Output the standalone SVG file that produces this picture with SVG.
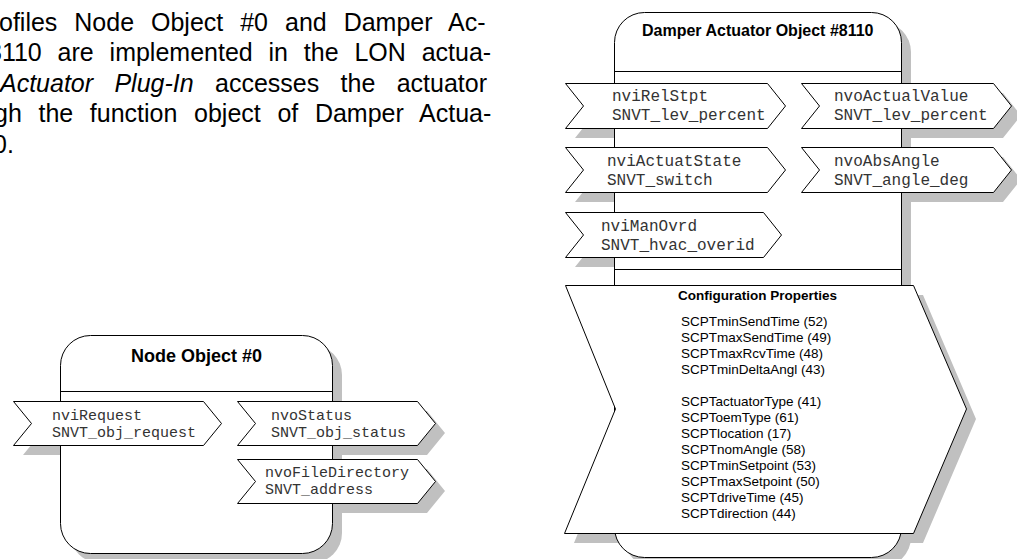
<svg xmlns="http://www.w3.org/2000/svg" width="1017" height="559" viewBox="0 0 1017 559">
<style>
.sh{fill:#c0c0c0;stroke:none}
.bx{fill:#fff;stroke:#000;stroke-width:1}
.ln{stroke:#000;stroke-width:1;fill:none}
.para{font-family:"Liberation Sans",Arial,sans-serif;font-size:25px;fill:#000}
.ttl{font-family:"Liberation Sans",Arial,sans-serif;font-weight:bold;fill:#000}
.nv{font-family:"Liberation Mono","Courier New",monospace;fill:#333}
.cp{font-family:"Liberation Sans",Arial,sans-serif;font-size:13.5px;fill:#000}
</style>
<rect x="0" y="0" width="1017" height="559" fill="#fff"/>

<g id="paragraph">
  <text class="para" x="-1" y="31" word-spacing="10">ofiles Node Object #0 and Damper Ac-</text>
  <text class="para" x="-12" y="61" word-spacing="8.9">8110 are implemented in the LON actua-</text>
  <text class="para" x="0" y="92" word-spacing="14.4"><tspan font-style="italic">Actuator Plug-In</tspan> accesses the actuator</text>
  <text class="para" x="-6" y="122" word-spacing="9.7">gh the function object of Damper Actua-</text>
  <text class="para" x="-7" y="153">0.</text>
</g>

<g id="node-object-0">
  <g transform="translate(10,10)">
    <polygon class="sh" points="13,401 203,401 221,423 203,445 13,445 31,423"/>
    <polygon class="sh" points="237,401 417,401 435,423 417,445 237,445 255,423"/>
    <polygon class="sh" points="237,459 417,459 435,481 417,503 237,503 255,481"/>
    <rect class="sh" x="60" y="335" width="272" height="218" rx="30" ry="30"/>
  </g>
  <rect class="bx" x="60.5" y="335.5" width="272" height="218" rx="30" ry="30"/>
  <line class="ln" x1="60.5" y1="391.5" x2="332.5" y2="391.5"/>
  <text class="ttl" x="131" y="362" font-size="18">Node Object #0</text>
  <g id="nviRequest">
    <polygon class="bx" points="13.5,401.5 203.5,401.5 221.5,423.5 203.5,445.5 13.5,445.5 31.5,423.5"/>
    <text class="nv" font-size="15" x="52" y="420">nviRequest</text>
    <text class="nv" font-size="15" x="52" y="437">SNVT_obj_request</text>
  </g>
  <g id="nvoStatus">
    <polygon class="bx" points="237.5,401.5 417.5,401.5 435.5,423.5 417.5,445.5 237.5,445.5 255.5,423.5"/>
    <text class="nv" font-size="15" x="271" y="420">nvoStatus</text>
    <text class="nv" font-size="15" x="271" y="437">SNVT_obj_status</text>
  </g>
  <g id="nvoFileDirectory">
    <polygon class="bx" points="237.5,459.5 417.5,459.5 435.5,481.5 417.5,503.5 237.5,503.5 255.5,481.5"/>
    <text class="nv" font-size="15" x="265" y="477">nvoFileDirectory</text>
    <text class="nv" font-size="15" x="265" y="494">SNVT_address</text>
  </g>
</g>

<g id="damper-actuator-object-8110">
  <g transform="translate(10,10)">
    <polygon class="sh" points="565,83 767,83 785,105.5 767,128 565,128 583,105.5"/>
    <polygon class="sh" points="801,83 993,83 1011,105.5 993,128 801,128 819,105.5"/>
    <polygon class="sh" points="565,147 767,147 785,169.5 767,192 565,192 583,169.5"/>
    <polygon class="sh" points="801,147 993,147 1011,169.5 993,192 801,192 819,169.5"/>
    <polygon class="sh" points="565,212 763,212 781,234.5 763,257 565,257 583,234.5"/>
    <polygon class="sh" points="565,285 913,285 966,409 913,533 564,533 615,409"/>
    <rect class="sh" x="614" y="12" width="287" height="545" rx="30" ry="30"/>
  </g>
  <rect class="bx" x="614.5" y="12.5" width="287" height="545" rx="30" ry="30"/>
  <line class="ln" x1="614.5" y1="71.5" x2="901.5" y2="71.5"/>
  <line class="ln" x1="614.5" y1="269.5" x2="901.5" y2="269.5"/>
  <text class="ttl" x="642" y="36" font-size="16">Damper Actuator Object #8110</text>
  <g id="nviRelStpt">
    <polygon class="bx" points="565.5,83.5 767.5,83.5 785.5,106 767.5,128.5 565.5,128.5 583.5,106"/>
    <text class="nv" font-size="16" x="612" y="101">nviRelStpt</text>
    <text class="nv" font-size="16" x="612" y="120">SNVT_lev_percent</text>
  </g>
  <g id="nvoActualValue">
    <polygon class="bx" points="801.5,83.5 993.5,83.5 1011.5,106 993.5,128.5 801.5,128.5 819.5,106"/>
    <text class="nv" font-size="16" x="834" y="101">nvoActualValue</text>
    <text class="nv" font-size="16" x="834" y="120">SNVT_lev_percent</text>
  </g>
  <g id="nviActuatState">
    <polygon class="bx" points="565.5,147.5 767.5,147.5 785.5,170 767.5,192.5 565.5,192.5 583.5,170"/>
    <text class="nv" font-size="16" x="607" y="166">nviActuatState</text>
    <text class="nv" font-size="16" x="607" y="185">SNVT_switch</text>
  </g>
  <g id="nvoAbsAngle">
    <polygon class="bx" points="801.5,147.5 993.5,147.5 1011.5,170 993.5,192.5 801.5,192.5 819.5,170"/>
    <text class="nv" font-size="16" x="834" y="166">nvoAbsAngle</text>
    <text class="nv" font-size="16" x="834" y="185">SNVT_angle_deg</text>
  </g>
  <g id="nviManOvrd">
    <polygon class="bx" points="565.5,212.5 763.5,212.5 781.5,235 763.5,257.5 565.5,257.5 583.5,235"/>
    <text class="nv" font-size="16" x="601" y="231">nviManOvrd</text>
    <text class="nv" font-size="16" x="601" y="250">SNVT_hvac_overid</text>
  </g>
  <g id="configuration-properties">
    <polygon class="bx" points="565.5,285.5 913.5,285.5 966.5,409 913.5,533.5 564.5,533.5 615.5,409"/>
    <text class="ttl" x="678" y="300" font-size="13.5">Configuration Properties</text>
    <text class="cp" x="681">
      <tspan x="681" y="326">SCPTminSendTime (52)</tspan>
      <tspan x="681" y="342">SCPTmaxSendTime (49)</tspan>
      <tspan x="681" y="358">SCPTmaxRcvTime (48)</tspan>
      <tspan x="681" y="374">SCPTminDeltaAngl (43)</tspan>
      <tspan x="681" y="406">SCPTactuatorType (41)</tspan>
      <tspan x="681" y="422">SCPToemType (61)</tspan>
      <tspan x="681" y="437.5">SCPTlocation (17)</tspan>
      <tspan x="681" y="453.5">SCPTnomAngle (58)</tspan>
      <tspan x="681" y="469.5">SCPTminSetpoint (53)</tspan>
      <tspan x="681" y="485.5">SCPTmaxSetpoint (50)</tspan>
      <tspan x="681" y="501.5">SCPTdriveTime (45)</tspan>
      <tspan x="681" y="517.5">SCPTdirection (44)</tspan>
    </text>
  </g>
</g>

<g id="connectors"/>
</svg>
